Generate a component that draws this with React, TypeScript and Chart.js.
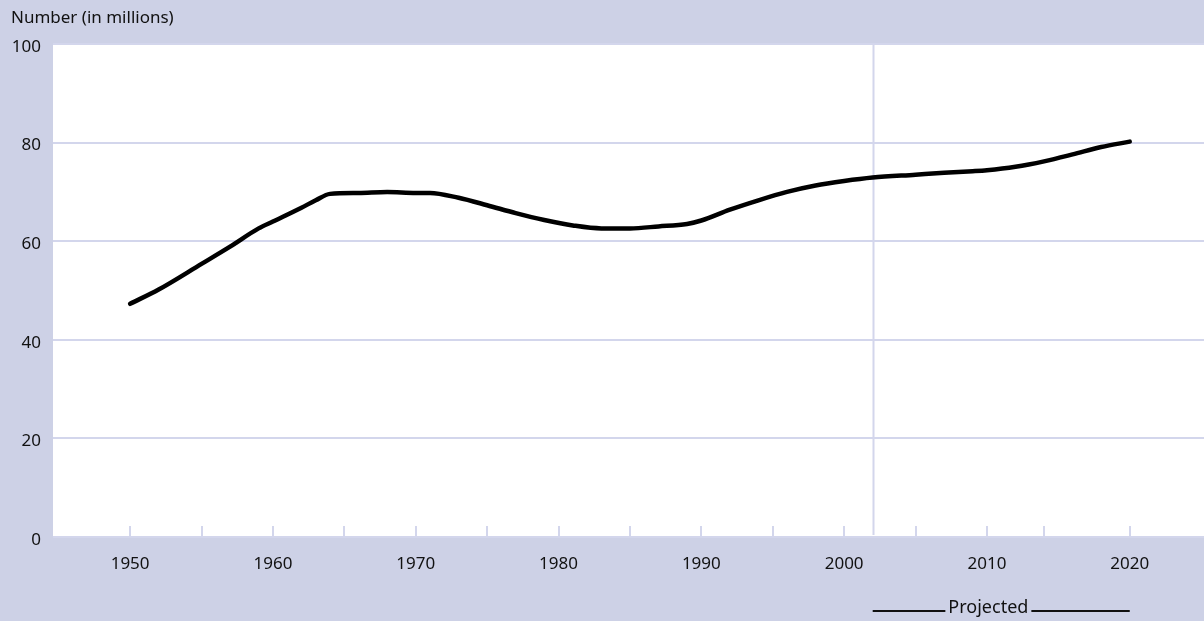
import React, { useEffect, useRef } from "react";
import { Chart, registerables } from "chart.js";

Chart.register(...registerables);

const years = [1950, 1952, 1955, 1957, 1959, 1960, 1962, 1963, 1964, 1966, 1968, 1970, 1971, 1973, 1975, 1977, 1979, 1981, 1983, 1985, 1987, 1989, 1990, 1992, 1994, 1996, 1998, 2000, 2002, 2005, 2007, 2009, 2010, 2012, 2014, 2016, 2018, 2020];
const values = [47.3, 50.2, 55.4, 58.9, 62.6, 64.0, 66.8, 68.3, 69.6, 69.8, 70.0, 69.8, 69.8, 68.8, 67.3, 65.7, 64.3, 63.2, 62.6, 62.6, 63.0, 63.5, 64.2, 66.4, 68.3, 70.0, 71.3, 72.2, 72.9, 73.5, 73.9, 74.2, 74.4, 75.1, 76.2, 77.6, 79.1, 80.2];
const labelYears = [1950, 1960, 1970, 1980, 1990, 2000, 2010, 2020];
const tickYears = [1950, 1955, 1960, 1965, 1970, 1975, 1980, 1985, 1990, 1995, 2000, 2005, 2010, 2014, 2020];
const projectedStart = 2002;
const projectedEnd = 2020;
const projectedLabelAt = 2010.1;
const yTicks = [0, 20, 40, 60, 80, 100];
const yTitle = "Number (in millions)";
const projectedLabel = "Projected";

const BG = "#cdd1e6";
const GRID = "#d3d6ec";
const FONT = "'Noto Sans', Lato, sans-serif";

const decorPlugin = {
  id: "decor",
  beforeDraw(chart: any) {
    const { ctx, chartArea, width, height } = chart;
    ctx.save();
    ctx.fillStyle = BG;
    ctx.fillRect(0, 0, width, height);
    ctx.fillStyle = "#ffffff";
    ctx.fillRect(chartArea.left, chartArea.top, chartArea.right - chartArea.left, chartArea.bottom - chartArea.top);
    ctx.restore();
  },
  beforeDatasetsDraw(chart: any) {
    const { ctx, chartArea, scales } = chart;
    const xs = scales.x;
    ctx.save();
    ctx.strokeStyle = GRID;
    ctx.lineWidth = 2;
    tickYears.forEach((yr) => {
      const px = Math.round(xs.getPixelForValue(yr));
      ctx.beginPath();
      ctx.moveTo(px, chartArea.bottom);
      ctx.lineTo(px, chartArea.bottom - 11);
      ctx.stroke();
    });
    const pxp = Math.round(xs.getPixelForValue(projectedStart)) + 0.5;
    ctx.beginPath();
    ctx.moveTo(pxp, chartArea.top);
    ctx.lineTo(pxp, chartArea.bottom - 2);
    ctx.stroke();
    ctx.restore();
  },
  afterDraw(chart: any) {
    const { ctx, scales } = chart;
    const xs = scales.x;
    ctx.save();
    ctx.fillStyle = "#111111";
    ctx.font = `17px ${FONT}`;
    ctx.textBaseline = "middle";
    ctx.textAlign = "left";
    ctx.fillText(yTitle, 11, 18);
    const x0 = xs.getPixelForValue(projectedStart);
    const x1 = xs.getPixelForValue(projectedEnd);
    const cx = xs.getPixelForValue(projectedLabelAt);
    const y = 608;
    ctx.font = `18px ${FONT}`;
    ctx.textAlign = "center";
    ctx.fillText(projectedLabel, cx, y);
    const tw = ctx.measureText(projectedLabel).width;
    ctx.strokeStyle = "#111111";
    ctx.lineWidth = 2;
    ctx.beginPath();
    ctx.moveTo(x0, y + 3);
    ctx.lineTo(cx - tw / 2 - 3, y + 3);
    ctx.moveTo(cx + tw / 2 + 3, y + 3);
    ctx.lineTo(x1, y + 3);
    ctx.stroke();
    ctx.restore();
  },
};

export default function App() {
  const ref = useRef<HTMLCanvasElement | null>(null);
  useEffect(() => {
    if (!ref.current) return;
    const chart = new Chart(ref.current, {
      type: "line",
      data: {
        datasets: [
          {
            data: years.map((yr, i) => ({ x: yr, y: values[i] })),
            borderColor: "#000000",
            borderWidth: 4.5,
            pointRadius: 0,
            cubicInterpolationMode: "monotone",
            borderCapStyle: "round",
            borderJoinStyle: "round",
            fill: false,
          },
        ],
      },
      options: {
        animation: false,
        responsive: false,
        maintainAspectRatio: false,
        layout: { padding: { top: 44, right: 0, left: 0, bottom: 0 } },
        plugins: { legend: { display: false }, tooltip: { enabled: false } },
        scales: {
          x: {
            type: "linear",
            min: 1944.6,
            max: 2025.2,
            afterBuildTicks: (axis: any) => {
              axis.ticks = labelYears.map((v) => ({ value: v }));
            },
            afterFit: (axis: any) => {
              axis.height = 84;
            },
            grid: { display: false, drawTicks: false },
            border: { display: false },
            ticks: {
              padding: 17,
              color: "#111111",
              font: { family: FONT, size: 17 },
              maxRotation: 0,
              autoSkip: false,
              callback: (v: any) => String(v),
            },
          },
          y: {
            min: 0,
            max: 100,
            afterBuildTicks: (axis: any) => {
              axis.ticks = yTicks.map((v) => ({ value: v }));
            },
            afterFit: (axis: any) => {
              axis.width = 53;
            },
            grid: { color: GRID, lineWidth: 2, drawTicks: false },
            border: { display: false },
            ticks: {
              padding: 12,
              labelOffset: 3,
              color: "#111111",
              font: { family: FONT, size: 17 },
              callback: (v: any) => String(v),
            },
          },
        },
      },
      plugins: [decorPlugin],
    } as any);
    return () => chart.destroy();
  }, []);
  return (
    <div style={{ position: "fixed", left: 0, top: 0, width: 1204, height: 621 }}>
      <canvas ref={ref} width={1204} height={621} style={{ display: "block" }} />
    </div>
  );
}
